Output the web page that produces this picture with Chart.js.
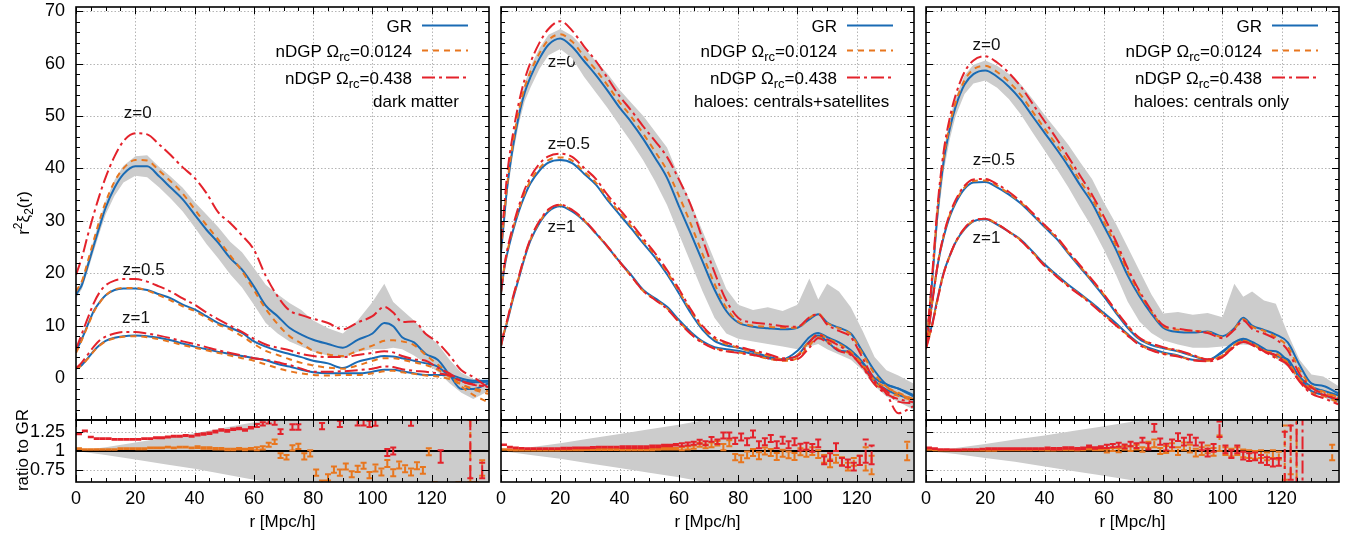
<!DOCTYPE html>
<html><head><meta charset="utf-8">
<script src="https://cdn.jsdelivr.net/npm/chart.js@4.4.0/dist/chart.umd.min.js"></script>
<style>
html,body{margin:0;padding:0;background:#fff;}
#wrap{position:relative;width:1350px;height:536px;overflow:hidden;background:#fff;}
#wrap canvas{position:absolute;left:0;top:0;}
</style></head><body><div id="wrap"></div>
<script>
// ---------- data ----------
const R = [0,1,2,4,6,8,10,13,16,20,24,28,32,36,40,44,48,52,56,60,64,68,72,76,80,85,90,95,100,104,107,110,114,118,122,126,130,134,139];

// dark matter
const DM_GR_Z0  = [15.9,16.8,17.8,21.5,25.3,29,32.5,36.3,38.9,40.4, 40.4,38.5,36.3,34.1,31.2,28.3,25.8,22.9,20.7,17.5, 13.8,11.8,9.6,8.3,7.3,6.5,5.8,7.3,8.5,10.5, 9.9,7.8,6.8,4.6,3.5,0.6,-2.1,-2.1,-1.0];
const DM_N1_Z0  = [16.5,17.5,18.5,22.3,26.3,30.2,33.6,37.5,40,41.6, 41.5,39.6,37.5,35.2,32.2,29.2,26.4,23.4,20.4,16.8, 13.2,10.3,8,6.6,5.2,4.5,4.2,5.2,6.2,7.1, 7.2,7,6.3,4.4,2.6,0.7,-1.6,-3.2,-4.6];
const DM_N4_Z0  = [19.7,21.3,23,27.3,31.3,35,38.3,42.3,45.2,46.7, 46.5,44.6,42.5,40.2,38.2,35.3,31.6,29.6,27.2,24.5, 19.5,15.6,12.9,12,11.3,10.5,9.3,10.6,11.8,13.6, 12.5,10.7,10.8,8.4,6.8,4.3,1.5,0.2,-1.8];
const DM_BAND_HI = [16.5,17.5,18.7,22.5,26.5,30.3,33.8,37.8,40.5,42.3, 42.5,40.3,38.4,36.3,33.6,31.2,28.8,26,24,21, 17.8,16,14.3,13,11,9.5,8.5,11,14.5,18, 14.5,13,11,8.5,6.5,3.5,1,-0.2,-0.5];
const DM_BAND_LO = [15.3,16.1,17,20.5,24.2,27.8,31.2,34.8,37.3,38.6, 38.3,36.4,34.2,31.8,28.8,25.6,22.8,19.8,17.3,14, 10.5,8.5,7,6,5,4.3,3.8,5,5.5,5.5, 5.8,5.5,4.3,2.8,1.2,-1,-2.8,-4,-2.5];
const DM_GR_Z05 = [5.1,6.3,7.5,10.2,12.8,14.5,15.8,16.8,17.1,17.1, 16.8,16,15.2,14,13.1,11.8,10.5,9.6,8.6,7, 6,5.2,4.6,4,3.3,2.8,1.9,3.1,3.8,4.2, 4.1,3.8,3.3,2.8,2.2,0.4,-0.5,-0.8,-0.7];
const DM_N1_Z05 = [4.8,6,7.3,10,12.6,14.4,15.8,16.9,17.2,17.2, 16.7,15.8,14.8,13.7,12.8,11.5,10.2,9.3,8,6.5, 5.2,4.4,3.6,2.9,2.4,2,1.8,2.4,3.3,3.8, 3.8,3.5,3,2.5,1.6,0.2,-1.2,-2.2,-3];
const DM_N4_Z05 = [5.5,7,8.5,11.5,14.3,16.4,17.7,18.6,18.9,18.9, 18.4,17.5,16.5,15.2,14,12.5,11.2,10,8.8,7.5, 6.4,5.8,5.3,4.6,4.2,4,4,4.4,4.8,5.1, 4.9,4.2,3.6,3.3,2,0.9,-0.6,-1.3,-1.6];
const DM_GR_Z1  = [1.8,2.1,2.5,3.8,5.2,6.3,7.1,7.7,8,8.1, 8,7.7,7.2,6.6,6,5.5,5,4.6,4.2,3.8, 3.4,2.7,2.2,1.6,1.1,0.9,0.9,0.9,1.2,1.6, 1.6,1.3,0.9,0.6,0.6,0.6,-0.1,-0.5,-0.5];
const DM_N1_Z1  = [1.8,2.1,2.5,3.7,5.1,6.2,7,7.6,7.9,8, 7.8,7.4,6.9,6.3,5.8,5.3,4.8,4.3,3.8,3.3, 2.6,1.9,1.3,0.9,0.6,0.5,0.6,0.6,0.9,1.3, 1.4,1.1,0.8,0.5,0.3,-0.2,-1.2,-2,-2.5];
const DM_N4_Z1  = [1.9,2.4,3,4.5,6,7.2,7.9,8.5,8.8,8.8, 8.5,8.1,7.6,7,6.5,5.9,5.3,4.8,4.3,3.8, 3.5,3,2.5,1.8,1.2,1.2,1.3,1.5,1.8,2.2, 2.1,1.7,1.4,1.2,0.9,0.5,-0.6,-1.2,-1.7];

// haloes: centrals+satellites
const CS_GR_Z0  = [24,30,36,44,50,54.5,57.5,61,63.6,64.8, 63.2,60.5,57.8,54.8,51.6,48.8,45.6,42,38.2,32.8, 27.6,22.2,16.9,12.8,10.6,9.8,9.5,9.3,9.6,11.2, 12.2,10.6,9.6,8.5,5,1.4,-1.2,-2,-3.2];
const CS_N1_Z0  = [24.5,30.5,36.5,44.8,51,55.5,58.5,62,64.5,65.6, 64.2,61.4,58.8,55.8,52.6,49.8,46.6,43.2,39.6,34.8, 29.4,23.6,18,13.4,10.8,10,9.8,9.6,9.6,11.5, 12.3,10.5,9.5,8.3,4.6,0.8,-1.6,-3,-4];
const CS_N4_Z0  = [26,32,38.5,46.5,52.5,57,60.3,64,66.6,68.1, 66.3,63.3,60.5,57.2,53.8,51,48,45.2,42.2,37.9, 33,26.5,20.2,14.8,11.5,10.6,10.3,9.9,9.8,11.6, 12.2,10.2,9,7.8,3.8,-0.4,-3,-6.7,-5.4];
const CS_BAND_HI = [24.5,31,37.5,45.5,51.5,56.2,59.5,63,65.5,66.6, 65.3,63,60.5,58,55,52.5,50,47,44,38.5, 33.5,28,22.5,17,14,13,13.5,12.8,14,19, 15,18,16.5,13.5,9,4,1.5,0.5,-1];
const CS_BAND_LO = [23.5,29,34.5,42.5,48.5,52.8,55.5,59,61.6,62.8, 61,57.5,54.5,51.5,48.2,45,41.5,37.5,33,27.5, 22,16.5,11.5,8.5,7.5,7,6.5,6,5.5,6, 6.5,5.5,4.5,3.5,1.5,-1.5,-3.5,-4.5,-6];
const CS_GR_Z05 = [16,20.5,23.5,28,31.8,34.8,37.2,39.6,41.1,41.6, 41,39,36.9,33.9,31.2,28.5,25.7,23,19.8,16.2, 12.4,9.2,7.1,6.2,5.8,5,4.1,3.6,5.2,7.8, 8.6,7.8,6.8,5.3,3,0,-1.2,-2,-3.5];
const CS_N1_Z05 = [16.2,20.8,23.8,28.4,32.2,35.3,37.7,40.1,41.6,42.1, 41.5,39.4,37.3,34.3,31.6,28.9,26.1,23.4,20.2,16.6, 12.8,9.6,7.5,6.5,5.8,5,4.3,3.6,4.4,7, 8.4,7.6,6.5,5,2.6,-0.4,-1.8,-2.8,-4];
const CS_N4_Z05 = [16.5,21,24.2,28.9,32.8,36,38.4,40.9,42.3,42.8, 42.2,40.1,38,34.9,32.2,29.5,26.6,23.8,20.6,17, 13.1,9.9,7.8,6.8,6,5.3,4.6,3.8,4.2,6.8, 8.3,7.4,6.2,4.6,2.2,-0.8,-2.4,-4.5,-4.8];
const CS_GR_Z1  = [6,8.5,10.5,15,19,23,26.3,29.6,31.8,32.8, 31.8,30,27.6,25,22.2,19.6,16.8,15.2,13.6,11.1, 8.8,7,5.9,5.5,5.2,4.6,3.8,3.5,4.4,7, 8.1,7,5.2,5,2.8,-0.5,-2.2,-3.2,-4.1];
const CS_N1_Z1  = [6.1,8.6,10.7,15.2,19.2,23.2,26.5,29.8,32,33, 32,30.1,27.6,25,22.1,19.4,16.6,15,13.3,10.8, 8.5,6.8,5.7,5.2,4.9,4.4,3.7,3.3,3.8,6.2, 7.8,7,5.4,4.6,2.3,-0.9,-2.6,-3.4,-4.3];
const CS_N4_Z1  = [6.2,8.8,10.9,15.4,19.4,23.4,26.7,30,32.2,33.1, 32.1,30.2,27.7,25.1,22.2,19.4,16.6,14.9,13.2,10.7, 8.4,6.7,5.6,5.1,4.8,4.4,3.8,3.4,3.6,5.8, 7.6,6.8,5.2,4.4,2,-1.2,-3,-4,-4.6];

// haloes: centrals only
const CO_GR_Z0  = [6,11.5,18,32,41.5,47.5,51.8,56,58,58.7, 57.5,55.6,53.1,49.9,46.8,43.7,40.4,36.8,33.4,29, 24.6,19.6,15.6,12.3,9.6,8.8,8.7,8.9,8,9.5, 11.5,10,9.2,8.3,6.8,2.5,-1,-1.5,-2.9];
const CO_N1_Z0  = [6,11.8,18.5,32.6,42.2,48.3,52.6,56.8,58.9,59.6, 58.4,56.5,54,50.8,47.6,44.5,41.2,37.6,34.2,29.8, 25.4,20.4,16.2,12.7,9.9,9.2,9,8.8,7.8,9.4, 11.2,9.8,9,7.8,6,1.6,-1.5,-2.6,-3.6];
const CO_N4_Z0  = [6.2,12,19,33.5,43.4,49.6,54,58.4,60.6,61.4, 60.2,58.2,55.6,52.3,49,45.7,42.2,38.6,35,30.8, 26.2,21,16.6,12.9,10.1,9.4,9,8.6,7.6,9.2, 11,9.4,8.5,7.4,5.3,0.8,-1.8,-3,-4.1];
const CO_BAND_HI = [6.3,12.3,19.5,34,43.5,49.5,53.6,57.8,59.8,60.6, 59.6,58,56,53.2,50.2,47.4,44.5,41.2,38,33.5, 29.5,25,20.5,16,12.3,12.6,12.1,12.4,11.6,18, 15.5,16.5,14.8,14.2,8.5,3.5,0.7,0.3,-1.5];
const CO_BAND_LO = [5.7,10.7,16.5,30,39.5,45.5,50,54.2,56.2,56.8, 55.4,53.2,50.3,46.8,43.4,40,36.4,32.5,28.8,24.5, 19.8,14.6,10.8,8.6,7.2,6.4,5.8,5.8,6,6.2, 6.4,6.2,5.2,3.8,2.2,-0.8,-2.4,-3.6,-5];
const CO_GR_Z05 = [6,10,14.2,21.8,27,30.8,33.4,36.1,37.3,37.4, 36.4,35,33.3,31.1,28.8,26.6,23.8,21.1,18.4,15.6, 12.5,9.6,7.4,6.3,5.7,5.1,4.2,3.5,4.9,6.8, 7.3,6.6,5.3,5.1,3.2,0.2,-1.7,-2.4,-3.3];
const CO_N1_Z05 = [5.8,9.8,14,21.8,27.2,31.1,33.7,36.4,37.6,37.7, 36.7,35.2,33.5,31.3,29,26.8,24,21.3,18.6,15.9, 12.8,9.9,7.6,6.5,5.8,5.2,4.3,3.6,4.3,6.3, 7.1,6.5,5.2,4.7,2.8,-0.2,-2,-2.8,-3.7];
const CO_N4_Z05 = [5.7,9.6,13.9,21.9,27.4,31.3,34,36.7,37.9,38, 37,35.5,33.7,31.5,29.2,27,24.2,21.5,18.8,16, 12.9,10,7.7,6.6,5.9,5.3,4.4,3.6,4.1,6, 7,6.3,5,4.4,2.5,-0.6,-2.4,-3.2,-4];
const CO_GR_Z1  = [6,8,10.1,15.5,20.2,23.3,25.9,28.4,29.9,30.3, 29.3,27.9,26.4,24.1,21.7,19.7,17.8,16.1,14.3,12.4, 10.5,8.4,6.6,5.6,4.9,4.3,3.5,3.4,5.1,6.8, 7.5,6.9,5.6,4.2,3.6,0,-2.5,-3.2,-4.3];
const CO_N1_Z1  = [5.8,7.8,9.9,15.3,20.1,23.3,25.9,28.5,30,30.4, 29.4,27.9,26.3,24,21.5,19.5,17.6,15.9,14.1,12.1, 10.2,8.2,6.4,5.4,4.7,4.2,3.4,3.3,4.4,6.3, 7.1,6.6,5.3,4,3,-0.3,-2.8,-3.4,-4.6];
const CO_N4_Z1  = [5.6,7.6,9.8,15.2,20,23.3,26,28.6,30.1,30.4, 29.4,27.9,26.2,23.9,21.4,19.4,17.5,15.8,14,12, 10.1,8.1,6.3,5.3,4.6,4.1,3.4,3.2,4,6, 6.9,6.4,5.1,3.8,2.6,-0.7,-3,-3.8,-5];

// ratio to GR (z=0), r = 1,3,...,137
const RR = [1,3,5,7,9,11,13,15,17,19,21,23,25,27,29,31,33,35,37,39,41,43,45,47,49,51,53,55,57,59,61,63,65,67,69,71,73,75,77,79,81,83,85,87,89,91,93,95,97,99,101,103,105,107,109,111,113,115,117,119,121,123,125,127,129,131,133,135,137];
const DM_RATIO_N4 = [1.22,1.26,1.18,1.16,1.16,1.16,1.15,1.15,1.15,1.15, 1.15,1.16,1.16,1.17,1.17,1.18,1.19,1.19,1.2,1.19, 1.21,1.22,1.23,1.25,1.27,1.26,1.28,1.29,1.27,1.3, 1.33,1.35,1.38,1.37,1.25,1.45,1.31,1.31,1.5,1.48, 1.5,1.32,1.55,1.5,1.35,1.5,1.46,1.37,1.37,1.35, 1.37,1.5,0.98,1.0,1.5,1.5,1.37,1.6,1.5,1.48, 1.6,0.93,1.5,1.6,1.6,1.7,1.05,1.5,0.75];
const DM_RATIO_N1 = [1.03,1.02,1.02,1.02,1.02,1.02,1.02,1.03,1.03,1.03, 1.03,1.03,1.04,1.04,1.04,1.05,1.04,1.05,1.05,1.04, 1.05,1.04,1.04,1.03,1.03,1.02,1.02,1.03,1.02,1.03, 1.03,1.04,1.08,1.12,0.94,0.92,1.04,1.06,0.93,0.97, 0.72,0.58,0.66,0.76,0.72,0.8,0.7,0.77,0.81,0.69, 0.78,0.73,0.84,0.72,0.82,0.77,0.73,0.81,0.75,0.99, 0.55,0.5,0.45,0.4,0.5,0.45,1.0,0.5,0.78];
const DM_RATIO_ERR = [0.004,0.004,0.004,0.004,0.004,0.004,0.004,0.004,0.004,0.004, 0.006,0.006,0.006,0.006,0.006,0.006,0.006,0.006,0.006,0.006, 0.01,0.01,0.01,0.01,0.01,0.01,0.01,0.01,0.01,0.01, 0.02,0.02,0.025,0.03,0.03,0.03,0.035,0.035,0.04,0.04, 0.04,0.04,0.04,0.04,0.04,0.04,0.04,0.04,0.04,0.04, 0.045,0.045,0.045,0.045,0.045,0.045,0.045,0.045,0.045,0.045, 0.05,0.08,0.08,0.1,0.1,0.1,0.4,0.1,0.1];
const CS_RATIO_N4 = [1.08,1.05,1.04,1.035,1.03,1.03,1.03,1.03,1.03,1.03, 1.035,1.035,1.04,1.04,1.04,1.045,1.05,1.05,1.05,1.05, 1.05,1.05,1.05,1.05,1.05,1.06,1.06,1.07,1.07,1.08, 1.08,1.09,1.1,1.12,1.1,1.15,1.12,1.2,1.2,1.13, 1.18,1.12,1.22,1.08,1.12,1.16,1.08,1.14,1.08,1.12, 1.05,1.06,1.04,1.1,0.88,0.92,1.05,0.86,0.84,0.8, 0.88,1.0,0.95,null,null,null,null,null,null];
const CS_RATIO_N1 = [1.02,1.015,1.01,1.01,1.01,1.01,1.01,1.01,1.01,1.01, 1.015,1.015,1.015,1.015,1.02,1.02,1.02,1.02,1.02,1.02, 1.02,1.02,1.02,1.02,1.02,1.02,1.025,1.03,1.03,1.03, 1.03,1.04,1.05,1.08,1.06,1.08,1.1,1.05,1.1,0.92, 0.9,0.95,0.98,0.94,1.0,0.98,0.93,0.97,0.95,0.93, 0.99,0.97,1.0,0.96,0.9,0.84,0.9,0.87,0.8,0.86, 0.88,0.9,0.82,null,null,null,null,null,1.0];
const CS_RATIO_ERR = [0.004,0.004,0.004,0.004,0.004,0.004,0.004,0.004,0.004,0.004, 0.006,0.006,0.006,0.006,0.006,0.006,0.006,0.006,0.006,0.006, 0.01,0.01,0.01,0.01,0.01,0.01,0.01,0.01,0.01,0.01, 0.02,0.02,0.02,0.025,0.025,0.03,0.03,0.04,0.04,0.04, 0.045,0.045,0.045,0.045,0.045,0.045,0.045,0.045,0.045,0.045, 0.045,0.045,0.05,0.05,0.05,0.05,0.05,0.05,0.05,0.05, 0.06,0.15,0.12,0.1,0.1,0.1,0.1,0.1,0.12];
const CO_RATIO_N4 = [1.04,1.03,1.02,1.02,1.015,1.015,1.02,1.02,1.02,1.025, 1.03,1.03,1.03,1.03,1.03,1.03,1.03,1.03,1.03,1.03, 1.035,1.03,1.03,1.04,1.04,1.03,1.035,1.06,1.04,1.05, 1.06,1.07,1.08,1.06,1.09,1.07,1.14,1.06,1.3,1.12, 1.05,1.1,1.18,1.12,1.16,1.12,1.06,0.98,1.04,1.28, 1.02,0.96,1.02,0.94,0.92,0.93,0.9,0.87,0.85,0.86, 0.9,0.98,1.0,1.0,null,null,null,null,null];
const CO_RATIO_N1 = [1.02,1.015,1.01,1.01,1.01,1.01,1.01,1.01,1.01,1.01, 1.01,1.01,1.015,1.015,1.015,1.015,1.015,1.015,1.02,1.015, 1.015,1.015,1.02,1.02,1.02,1.015,1.02,1.03,1.02,1.02, 1.0,1.02,1.01,1.04,1.03,1.05,1.02,1.08,1.1,1.0, 1.02,1.05,1.0,1.06,1.03,0.98,1.0,1.02,0.99,1.1, 1.0,0.98,1.0,0.97,0.96,0.95,0.96,0.93,0.96,0.94, 0.98,1.05,1.0,null,null,null,null,null,0.98];
const CO_RATIO_ERR = [0.004,0.004,0.004,0.004,0.004,0.004,0.004,0.004,0.004,0.004, 0.006,0.006,0.006,0.006,0.006,0.006,0.006,0.006,0.006,0.006, 0.01,0.01,0.01,0.01,0.01,0.01,0.01,0.01,0.01,0.01, 0.02,0.02,0.025,0.025,0.03,0.03,0.03,0.04,0.05,0.04, 0.045,0.05,0.05,0.05,0.05,0.05,0.05,0.05,0.05,0.1, 0.05,0.05,0.05,0.05,0.05,0.05,0.05,0.05,0.05,0.05, 0.35,0.35,0.5,0.6,0.1,0.1,0.1,0.1,0.1];

// GR error band in the ratio panel
const RB = [0,10,20,30,40,50,60,70,80,139];
const DM_RB_HI = [1.0,1.05,1.11,1.17,1.23,1.3,1.37,1.44,1.5,1.6];
const DM_RB_LO = [1.0,0.95,0.89,0.83,0.77,0.7,0.63,0.56,0.5,0.4];
const CS_RB_HI = [1.0,1.05,1.1,1.16,1.22,1.28,1.34,1.41,1.48,1.6];
const CS_RB_LO = [1.0,0.95,0.9,0.84,0.78,0.72,0.66,0.59,0.52,0.4];
const CO_RB_HI = [1.0,1.04,1.09,1.15,1.2,1.26,1.32,1.38,1.44,1.6];
const CO_RB_LO = [1.0,0.96,0.91,0.86,0.8,0.74,0.68,0.62,0.56,0.4];

// ticks
const X_MAJOR = [0,20,40,60,80,100,120];
const Y_MAJOR = [0,10,20,30,40,50,60,70];
const RATIO_MAJOR = [0.75,1,1.25];

// ---------- styling / layout ----------
const FONT = '"Liberation Sans", Arial, Helvetica, sans-serif';
const C_GR = '#1a6bb4', C_N1 = '#e8761e', C_N4 = '#e4222b', C_BAND = '#cccccc';
const DASH_N1 = [6,5], DASH_N4 = [13,4,3,4];
const XMAX = 139.3;
const W = 1350, H = 536, PW = 413;
const MAIN_TOP = 7, MAIN_BOT = 420, RAT_TOP = 420, RAT_BOT = 482;

function xy(xs, ys){ const o=[]; for(let i=0;i<xs.length;i++) o.push({x:xs[i], y:ys[i]}); return o; }

function richWidth(ctx, parts){ let w=0; for(const p of parts){ ctx.font=`${p.s}px ${FONT}`; w+=ctx.measureText(p.t).width; } return w; }
function drawRich(ctx, parts, x, y){ let cx=x; for(const p of parts){ ctx.font=`${p.s}px ${FONT}`; ctx.fillText(p.t, cx, y+(p.dy||0)); cx+=ctx.measureText(p.t).width; } }

function makePlugin(cfg){
  return {
    id:'gp',
    beforeDatasetsDraw(chart){
      const {ctx, chartArea:a} = chart; const xs=chart.scales.x, ys=chart.scales.y;
      ctx.save();
      ctx.strokeStyle='#b5b5b5'; ctx.lineWidth=1; ctx.setLineDash([1.5,2]);
      ctx.beginPath();
      for(const v of X_MAJOR){ const px=Math.round(xs.getPixelForValue(v))+0.5; if(px<=a.left+2||px>=a.right-2) continue; ctx.moveTo(px,a.top); ctx.lineTo(px,a.bottom); }
      for(const v of cfg.yMajor){ const py=Math.round(ys.getPixelForValue(v))+0.5; if(py<=a.top+2||py>=a.bottom-2) continue; ctx.moveTo(a.left,py); ctx.lineTo(a.right,py); }
      ctx.stroke(); ctx.restore();
      if(cfg.annot){
        ctx.save(); ctx.fillStyle='#111'; ctx.font=`17px ${FONT}`; ctx.textAlign='center'; ctx.textBaseline='middle';
        for(const t of cfg.annot) ctx.fillText(t.text, xs.getPixelForValue(t.x), ys.getPixelForValue(t.y));
        ctx.restore();
      }
    },
    afterDatasetsDraw(chart){
      const {ctx, chartArea:a} = chart; const xs=chart.scales.x, ys=chart.scales.y;
      // error bars of ratio points
      ctx.save(); ctx.beginPath(); ctx.rect(a.left,a.top,a.right-a.left,a.bottom-a.top); ctx.clip();
      chart.data.datasets.forEach((ds,i)=>{
        if(!ds.errors) return;
        const meta=chart.getDatasetMeta(i);
        ctx.strokeStyle=ds.borderColor; ctx.lineWidth=2;
        ds.data.forEach((d,j)=>{
          if(d.y==null) return;
          const el=meta.data[j]; const px=el.x;
          const y1=ys.getPixelForValue(d.y-ds.errors[j]), y2=ys.getPixelForValue(d.y+ds.errors[j]);
          ctx.setLineDash(ds.barDash); ctx.beginPath(); ctx.moveTo(px,y1); ctx.lineTo(px,y2); ctx.stroke();
          ctx.setLineDash([]); ctx.beginPath();
          ctx.moveTo(px-3,y1); ctx.lineTo(px+3,y1); ctx.moveTo(px-3,y2); ctx.lineTo(px+3,y2); ctx.stroke();
        });
      });
      ctx.restore();
      // ticks (inward, all sides)
      ctx.save(); ctx.strokeStyle='#000'; ctx.lineWidth=1; ctx.setLineDash([]);
      ctx.beginPath();
      const xt=(v,len)=>{ const px=Math.round(xs.getPixelForValue(v))+0.5; ctx.moveTo(px,a.top); ctx.lineTo(px,a.top+len); ctx.moveTo(px,a.bottom); ctx.lineTo(px,a.bottom-len); };
      const yt=(v,len)=>{ const py=Math.round(ys.getPixelForValue(v))+0.5; ctx.moveTo(a.left,py); ctx.lineTo(a.left+len,py); ctx.moveTo(a.right,py); ctx.lineTo(a.right-len,py); };
      for(let v=0; v<=XMAX; v+=5){ xt(v, X_MAJOR.includes(v)?7:4); }
      for(const v of cfg.yMajor) yt(v,7);
      if(cfg.yMinor){ for(let v=cfg.yMinor[0]; v<=cfg.yMinor[1]; v+=cfg.yMinor[2]){ if(!cfg.yMajor.includes(v)) yt(v,4); } }
      ctx.stroke();
      ctx.lineWidth=1.6; ctx.strokeRect(a.left,a.top,a.right-a.left,a.bottom-a.top);
      ctx.restore();
      // tick labels & titles
      ctx.save(); ctx.fillStyle='#000';
      if(cfg.xLabels){
        ctx.font=`18px ${FONT}`; ctx.textAlign='center'; ctx.textBaseline='middle';
        for(const v of X_MAJOR) ctx.fillText(String(v), xs.getPixelForValue(v), a.bottom+17);
        ctx.font=`17px ${FONT}`; ctx.textBaseline='alphabetic';
        ctx.fillText('r [Mpc/h]', (a.left+a.right)/2, 527);
      }
      if(cfg.yLabels){
        ctx.font=`18px ${FONT}`; ctx.textAlign='right'; ctx.textBaseline='middle';
        for(const v of cfg.yMajor) ctx.fillText(String(v), a.left-11, ys.getPixelForValue(v));
      }
      if(cfg.yTitle){
        ctx.save(); ctx.translate(cfg.yTitle.x, cfg.yTitle.y); ctx.rotate(-Math.PI/2);
        ctx.textAlign='left'; ctx.textBaseline='alphabetic';
        const w=richWidth(ctx,cfg.yTitle.parts); drawRich(ctx,cfg.yTitle.parts,-w/2,cfg.yTitle.base);
        ctx.restore();
      }
      if(cfg.legend){
        const rx=a.right-77; ctx.textAlign='left'; ctx.textBaseline='alphabetic';
        const rows=[
          {parts:[{t:'GR',s:17}], y:25, color:C_GR, dash:[]},
          {parts:[{t:'nDGP Ω',s:17},{t:'rc',s:13,dy:4},{t:'=0.0124',s:17}], y:50, color:C_N1, dash:DASH_N1},
          {parts:[{t:'nDGP Ω',s:17},{t:'rc',s:13,dy:4},{t:'=0.438',s:17}], y:77, color:C_N4, dash:DASH_N4}
        ];
        for(const r of rows){
          const w=richWidth(ctx,r.parts); ctx.fillStyle='#000'; drawRich(ctx,r.parts,rx-w,r.y+6.5);
          ctx.strokeStyle=r.color; ctx.lineWidth=2; ctx.setLineDash(r.dash);
          ctx.beginPath(); ctx.moveTo(a.right-67,r.y+0.5); ctx.lineTo(a.right-21,r.y+0.5); ctx.stroke(); ctx.setLineDash([]);
        }
        ctx.fillStyle='#000'; ctx.font=`17px ${FONT}`;
        ctx.fillText(cfg.legend.label, a.left+cfg.legend.labelX, 107);
      }
      ctx.restore();
    }
  };
}

const PANELS = [
  {L:76, label:'dark matter', labelX:297,
   gr:[DM_GR_Z0,DM_GR_Z05,DM_GR_Z1], n1:[DM_N1_Z0,DM_N1_Z05,DM_N1_Z1], n4:[DM_N4_Z0,DM_N4_Z05,DM_N4_Z1],
   hi:DM_BAND_HI, lo:DM_BAND_LO, rn1:DM_RATIO_N1, rn4:DM_RATIO_N4, rerr:DM_RATIO_ERR, rbh:DM_RB_HI, rbl:DM_RB_LO,
   annot:[{text:'z=0',x:20.8,y:50.6},{text:'z=0.5',x:22.8,y:20.6},{text:'z=1',x:20.2,y:11.4}], first:true},
  {L:501, label:'haloes: centrals+satellites', labelX:193,
   gr:[CS_GR_Z0,CS_GR_Z05,CS_GR_Z1], n1:[CS_N1_Z0,CS_N1_Z05,CS_N1_Z1], n4:[CS_N4_Z0,CS_N4_Z05,CS_N4_Z1],
   hi:CS_BAND_HI, lo:CS_BAND_LO, rn1:CS_RATIO_N1, rn4:CS_RATIO_N4, rerr:CS_RATIO_ERR, rbh:CS_RB_HI, rbl:CS_RB_LO,
   annot:[{text:'z=0',x:20.5,y:60.3},{text:'z=0.5',x:22.9,y:44.6},{text:'z=1',x:20.4,y:28.7}], first:false},
  {L:926, label:'haloes: centrals only', labelX:208,
   gr:[CO_GR_Z0,CO_GR_Z05,CO_GR_Z1], n1:[CO_N1_Z0,CO_N1_Z05,CO_N1_Z1], n4:[CO_N4_Z0,CO_N4_Z05,CO_N4_Z1],
   hi:CO_BAND_HI, lo:CO_BAND_LO, rn1:CO_RATIO_N1, rn4:CO_RATIO_N4, rerr:CO_RATIO_ERR, rbh:CO_RB_HI, rbl:CO_RB_LO,
   annot:[{text:'z=0',x:20.4,y:63.5},{text:'z=0.5',x:22.9,y:41.6},{text:'z=1',x:20.4,y:26.6}], first:false}
];

const wrap=document.getElementById('wrap');
function mkCanvas(){ const c=document.createElement('canvas'); c.width=W; c.height=H; c.style.width=W+'px'; c.style.height=H+'px'; wrap.appendChild(c); return c; }

function baseOptions(p, top, bot, ymin, ymax){
  return {
    responsive:false, animation:false, devicePixelRatio:1, events:[],
    layout:{padding:{left:p.L, top:top, right:W-(p.L+PW), bottom:H-bot}},
    scales:{
      x:{type:'linear', min:0, max:XMAX, display:false},
      y:{type:'linear', min:ymin, max:ymax, display:false}
    },
    plugins:{legend:{display:false}, tooltip:{enabled:false}}
  };
}

for(const p of PANELS){
  // main panel
  const ds=[];
  ds.push({data:xy(R,p.hi), borderWidth:0, pointRadius:0, fill:'+1', backgroundColor:C_BAND, borderColor:'rgba(0,0,0,0)', order:10, tension:0, clip:0});
  ds.push({data:xy(R,p.lo), borderWidth:0, pointRadius:0, fill:false, borderColor:'rgba(0,0,0,0)', order:10, tension:0, clip:0});
  for(let k=0;k<3;k++){
    ds.push({data:xy(R,p.gr[k]), borderColor:C_GR, borderWidth:2, pointRadius:0, fill:false, order:3, cubicInterpolationMode:'monotone', clip:0});
    ds.push({data:xy(R,p.n1[k]), borderColor:C_N1, borderWidth:2, borderDash:DASH_N1, pointRadius:0, fill:false, order:2, cubicInterpolationMode:'monotone', clip:0});
    ds.push({data:xy(R,p.n4[k]), borderColor:C_N4, borderWidth:2, borderDash:DASH_N4, pointRadius:0, fill:false, order:1, cubicInterpolationMode:'monotone', clip:0});
  }
  const mcfg={yMajor:Y_MAJOR, yMinor:[-8,70,2], yLabels:p.first, xLabels:false, annot:p.annot,
    legend:{label:p.label, labelX:p.labelX},
    yTitle:p.first?{x:22,y:213,base:7,parts:[{t:'r',s:17},{t:'2',s:12,dy:-7},{t:'ξ',s:17},{t:'2',s:12,dy:4},{t:'(r)',s:17}]}:null};
  new Chart(mkCanvas(), {type:'line', data:{datasets:ds}, options:baseOptions(p,MAIN_TOP,MAIN_BOT,-8,70.8), plugins:[makePlugin(mcfg)]});

  // ratio panel
  const rd=[];
  rd.push({data:xy(RB,p.rbh), borderWidth:0, pointRadius:0, fill:'+1', backgroundColor:C_BAND, borderColor:'rgba(0,0,0,0)', order:10, tension:0, clip:0});
  rd.push({data:xy(RB,p.rbl), borderWidth:0, pointRadius:0, fill:false, borderColor:'rgba(0,0,0,0)', order:10, tension:0, clip:0});
  rd.push({data:[{x:0,y:1},{x:XMAX,y:1}], borderColor:'#000', borderWidth:2, pointRadius:0, fill:false, order:5, clip:0});
  rd.push({data:xy(RR,p.rn1), errors:p.rerr, barDash:DASH_N1, borderColor:C_N1, showLine:false, pointRadius:0, fill:false, order:2, clip:0});
  rd.push({data:xy(RR,p.rn4), errors:p.rerr, barDash:DASH_N4, borderColor:C_N4, showLine:false, pointRadius:0, fill:false, order:1, clip:0});
  const rcfg={yMajor:RATIO_MAJOR, yMinor:null, yLabels:p.first, xLabels:true,
    yTitle:p.first?{x:22,y:450,base:6,parts:[{t:'ratio to GR',s:17}]}:null};
  new Chart(mkCanvas(), {type:'line', data:{datasets:rd}, options:baseOptions(p,RAT_TOP,RAT_BOT,0.6,1.4), plugins:[makePlugin(rcfg)]});
}
</script>
</body></html>
